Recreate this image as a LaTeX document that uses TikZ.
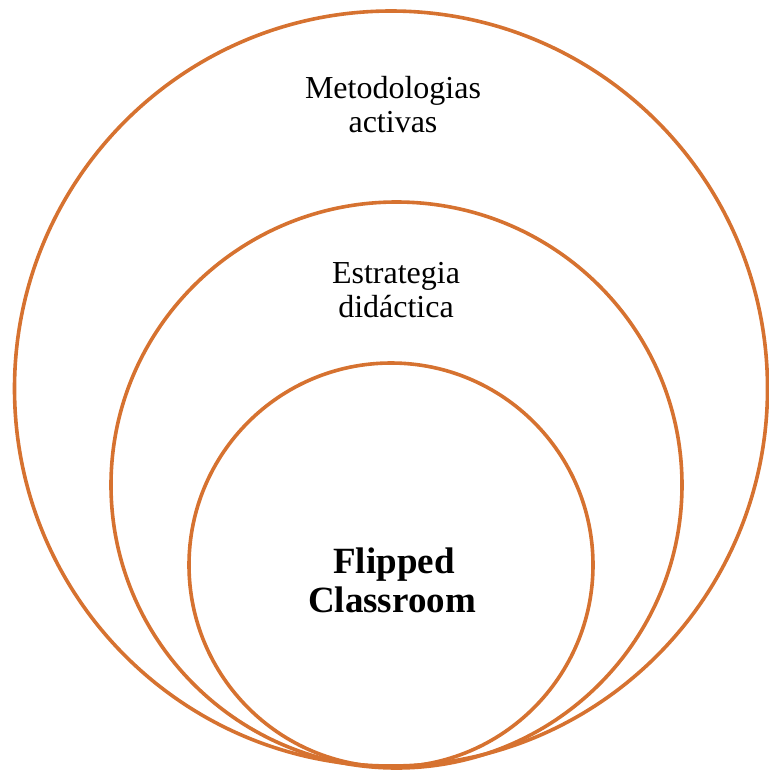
\documentclass[tikz,border=0pt]{standalone}
\usepackage{fontspec}
\setmainfont{Liberation Serif}
\definecolor{ring}{RGB}{214,114,48}
\begin{document}
\begin{tikzpicture}[x=1pt,y=-1pt,
  ringline/.style={draw=ring,line width=3.6pt},
  lbl/.style={anchor=base,font=\fontsize{32}{36}\selectfont,inner sep=0pt},
  lblbold/.style={anchor=base,font=\fontsize{37}{40}\selectfont\bfseries,inner sep=0pt}]
\useasboundingbox (0,0) rectangle (769,772);
\draw[ringline] (391,388.5) ellipse [x radius=376.5,y radius=377.5];
\draw[ringline] (396.5,485) ellipse [x radius=285.5,y radius=283];
\draw[ringline] (391,565) ellipse [x radius=202,y radius=202];
\node[lbl] (meta1) at (393,98) {Metodologias};
\node[lbl] (meta2) at (393,132) {activas};
\node[lbl] (estr1) at (396,283) {Estrategia};
\node[lbl] (estr2) at (396,317) {didáctica};
\node[lblbold] (flip1) at (394,573) {Flipped};
\node[lblbold] (flip2) at (392,612) {Classroom};
\end{tikzpicture}
\end{document}
